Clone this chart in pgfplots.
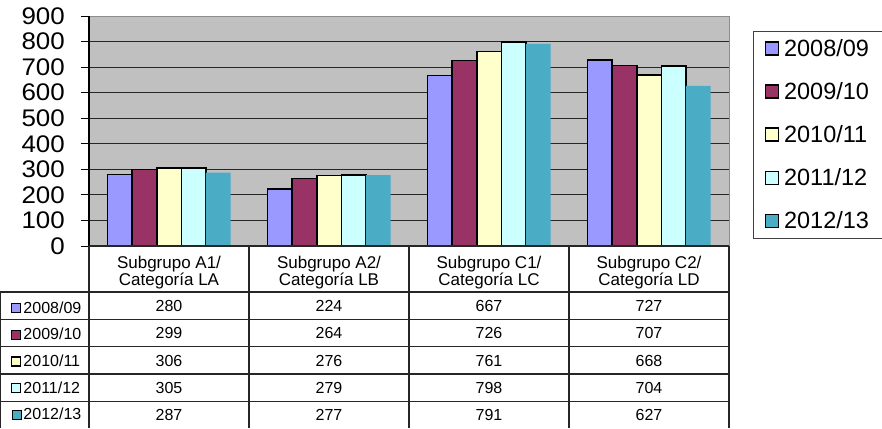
\documentclass[border=0pt]{standalone}
\usepackage{pgfplots}
\pgfplotsset{compat=1.18}
\usepackage{pgfplotstable}
\usepackage{fontspec}
\setmainfont{Liberation Sans}
\newfontfamily\tickfont[FakeStretch=1.08]{Liberation Sans}

\definecolor{cA}{HTML}{9999FF}
\definecolor{cB}{HTML}{993366}
\definecolor{cC}{HTML}{FFFFCC}
\definecolor{cD}{HTML}{CCFFFF}
\definecolor{cE}{HTML}{4BACC6}
\definecolor{plotbg}{HTML}{C0C0C0}

\pgfplotstableread{
cat s1 s2 s3 s4 s5
0 280 299 306 305 287
1 224 264 276 279 277
2 667 726 761 798 791
3 727 707 668 704 627
}\data

\begin{document}
\begin{tikzpicture}[x=1pt,y=1pt]
\useasboundingbox (0,0) rectangle (882,-428);
\begin{axis}[
  at={(89pt,-246pt)}, anchor=south west,
  scale only axis, width=640pt, height=230pt,
  xmin=-0.5, xmax=3.5, ymin=0, ymax=900,
  ybar=0pt, bar width=24.6pt,
  xtick=\empty,
  ytick={0,100,...,900}, ytick pos=left,
  ymajorgrids, grid style={black!85, line width=0.9pt},
  axis background/.style={fill=plotbg},
  axis line style={draw=black!45, line width=1pt},
  tick align=outside, major tick length=8pt,
  ytick style={black, line width=1pt},
  every y tick label/.append style={font=\tickfont\fontsize{24}{24}\selectfont, anchor=east, inner xsep=0pt, xshift=-16pt},
  /pgf/number format/assume math mode=true,
  legend style={at={(axis description cs:1.0375,0.935)}, anchor=north west,
    draw=black!75, line width=1pt, fill=white,
    font=\fontsize{23.5}{23.5}\selectfont, row sep=20.5pt, column sep=3pt,
    inner xsep=11pt, inner ysep=6pt},
  legend cell align=left,
  legend image code/.code={\draw[#1] (0pt,-6.5pt) rectangle (13pt,6.5pt);},
  every axis plot/.append style={line width=1.6pt},
  clip=false,
]
\addplot[fill=cA, draw=black] table[x=cat,y=s1] {\data};
\addplot[fill=cB, draw=black] table[x=cat,y=s2] {\data};
\addplot[fill=cC, draw=black] table[x=cat,y=s3] {\data};
\addplot[fill=cD, draw=black] table[x=cat,y=s4] {\data};
\addplot[fill=cE, draw=none] table[x=cat,y=s5] {\data};
\legend{2008/09,2009/10,2010/11,2011/12,2012/13}
\draw[black!45, line width=1pt] (rel axis cs:0,1) -- (rel axis cs:1,1) -- (rel axis cs:1,0);
\draw[black, line width=1.5pt] (rel axis cs:0,0) -- (rel axis cs:0,1);
\end{axis}

% legend of the data table (row labels)
\begin{axis}[
  at={(89pt,-246pt)}, anchor=south west,
  scale only axis, width=640pt, height=230pt,
  hide axis, xmin=0, xmax=1, ymin=0, ymax=1,
  legend style={at={(axis description cs:-0.1219,-0.2326)}, anchor=north west,
    draw=none, fill=none, inner sep=0pt,
    font=\fontsize{16}{16}\selectfont, row sep=9.5pt},
  legend cell align=left,
  legend image code/.code={\draw[#1] (0pt,-4.5pt) rectangle (9pt,4.5pt);},
]
\addlegendimage{fill=cA, draw=black, line width=1.3pt}
\addlegendimage{fill=cB, draw=black, line width=1.3pt}
\addlegendimage{fill=cC, draw=black, line width=1.3pt}
\addlegendimage{fill=cD, draw=black, line width=1.3pt}
\addlegendimage{fill=cE, draw=none}
\legend{2008/09,2009/10,2010/11,2011/12,2012/13}
\end{axis}

% data table grid
\begin{scope}[line width=1.3pt, black!85]
\draw (89,-246) -- (729,-246);
\foreach \x in {89,249,409,569,729} \draw (\x,-246) -- (\x,-428);
\foreach \y in {292,319.3,346.6,374,401.3} \draw (0,-\y) -- (729,-\y);
\draw (0.65,-292) -- (0.65,-428);
\end{scope}
\foreach \c/\n/\l in {0/A1/LA,1/A2/LB,2/C1/LC,3/C2/LD}{
  \node[anchor=base, inner sep=0pt, font=\fontsize{17}{17}\selectfont] at ({169+160*\c},-268) {Subgrupo \n/};
  \node[anchor=base, inner sep=0pt, font=\fontsize{17}{17}\selectfont] at ({169+160*\c},-285) {Categoría \l};
}
\foreach \c in {0,...,3}{
  \foreach \r in {1,...,5}{
    \pgfplotstablegetelem{\c}{s\r}\of\data
    \node[anchor=base, inner sep=0pt, font=\fontsize{16}{16}\selectfont] at ({169+160*\c},{-311.5-27.3*(\r-1)}) {\pgfplotsretval};
  }
}
\end{tikzpicture}
\end{document}
